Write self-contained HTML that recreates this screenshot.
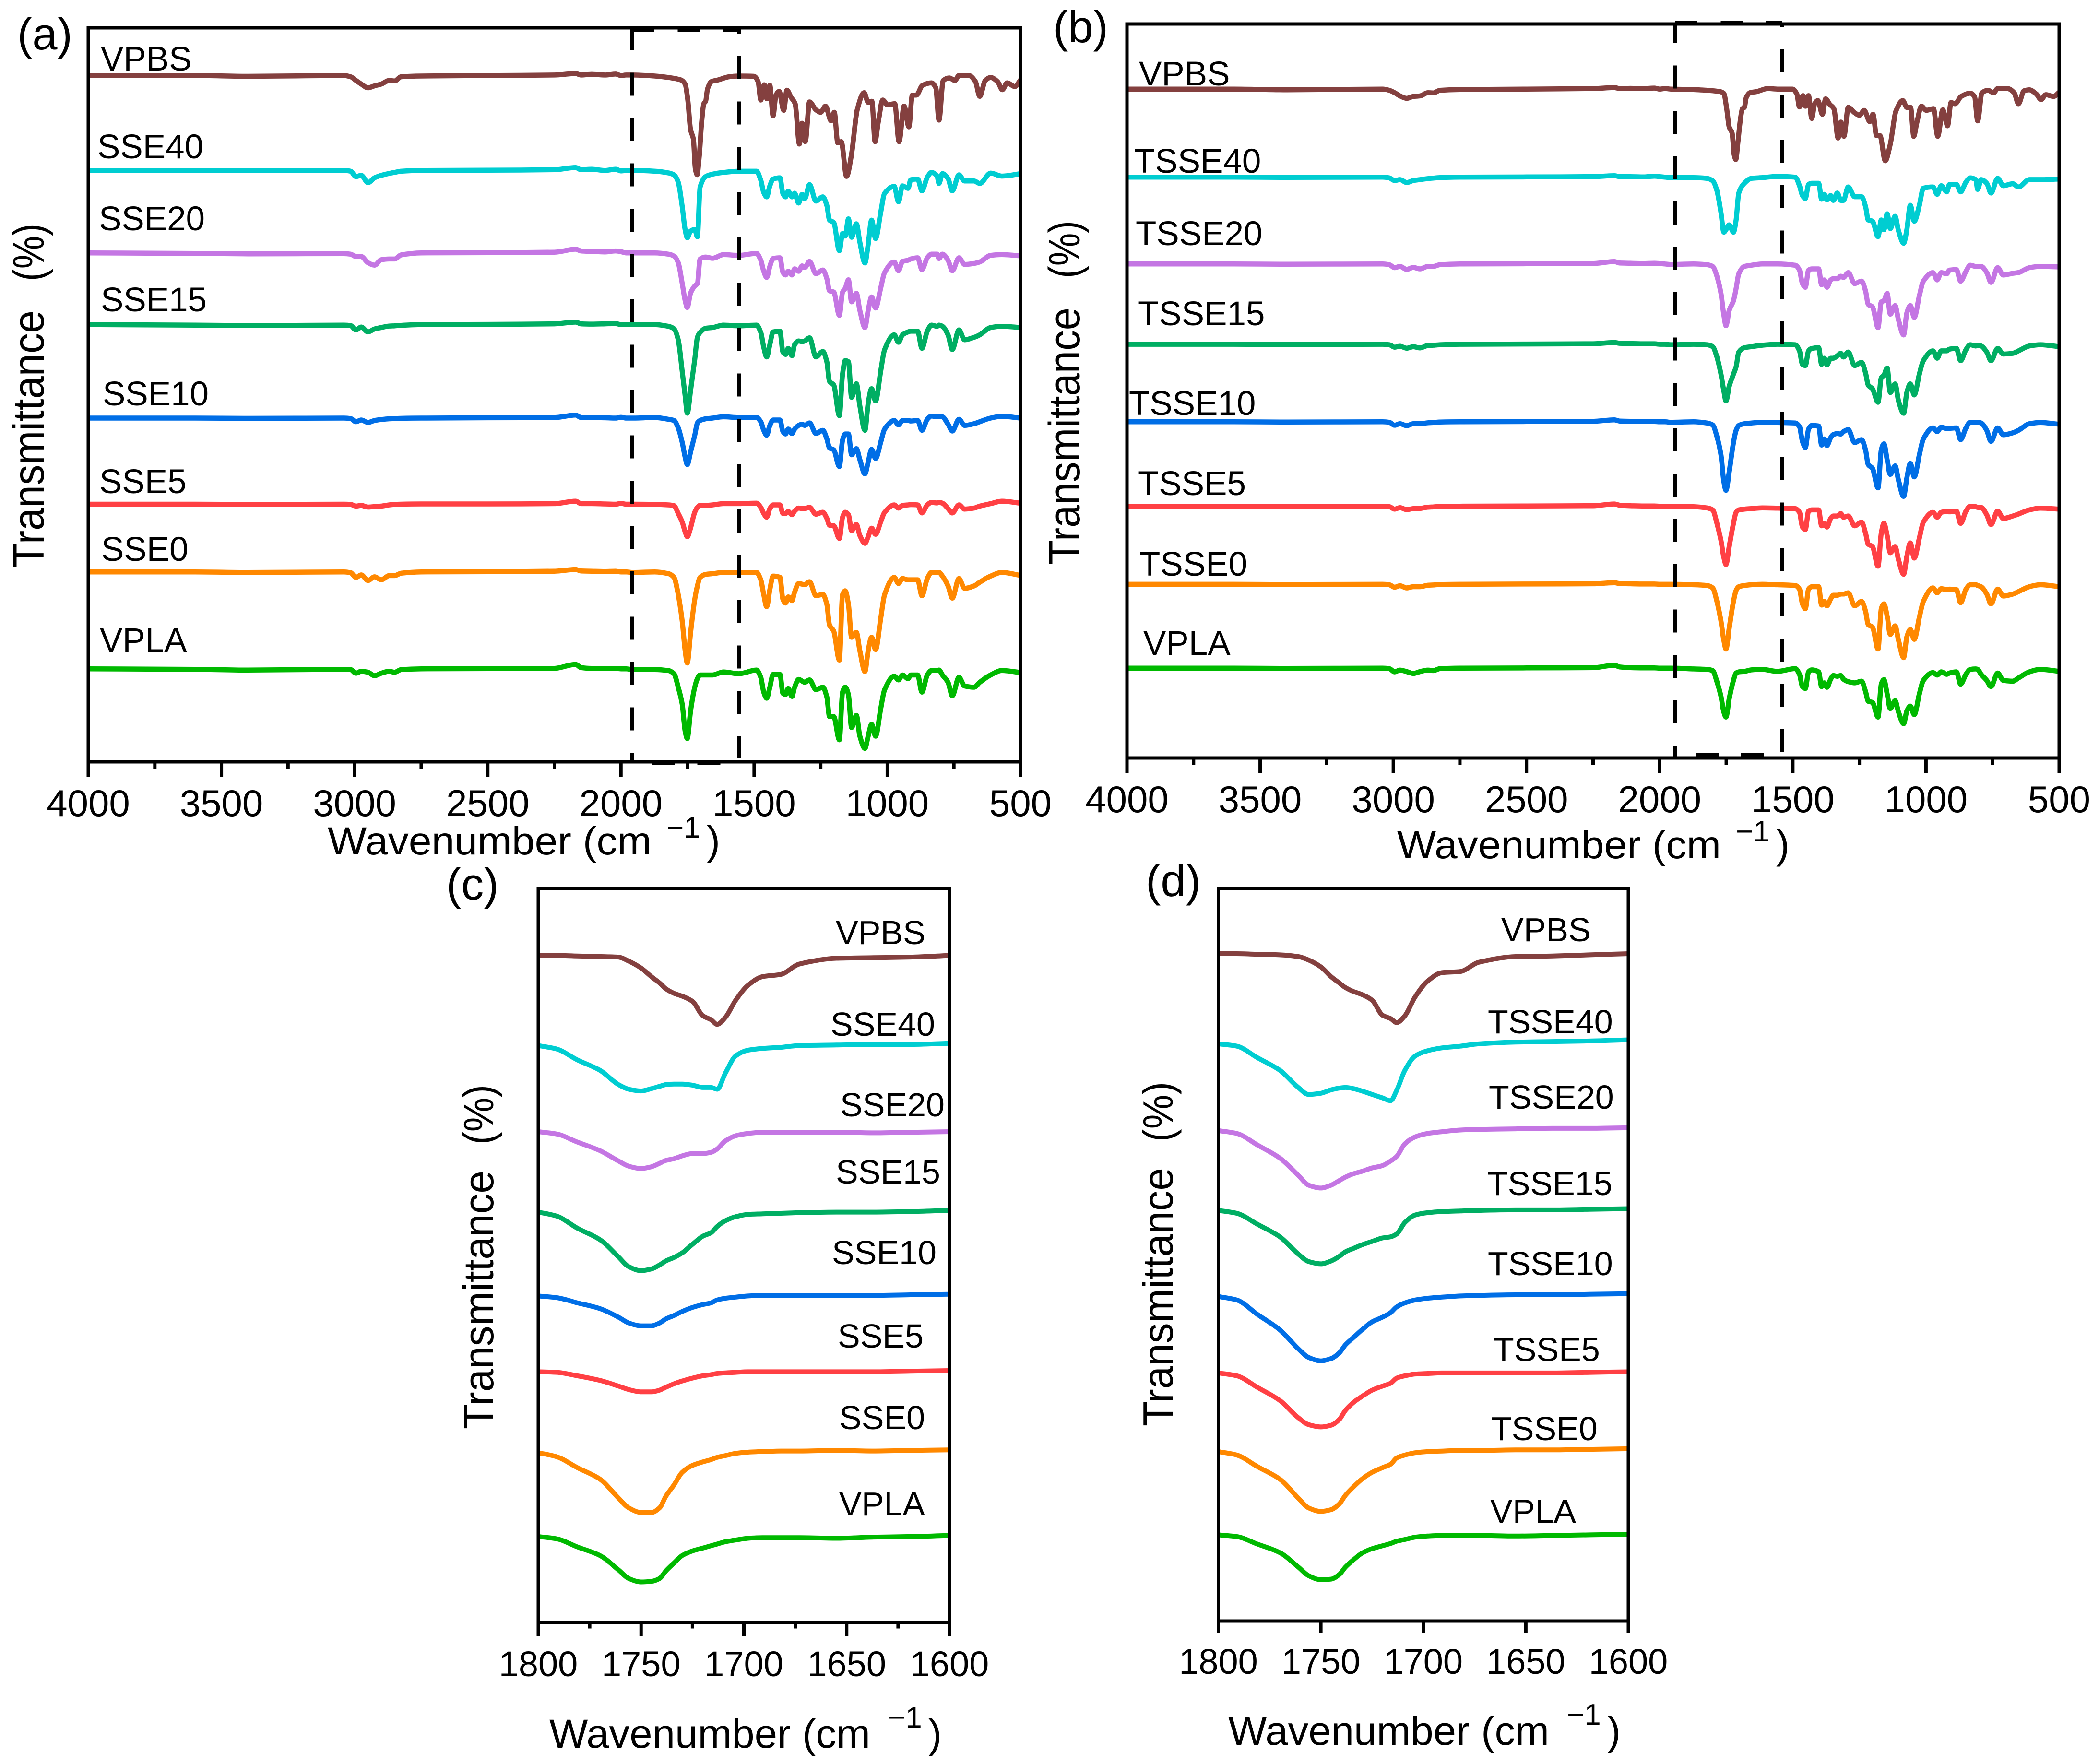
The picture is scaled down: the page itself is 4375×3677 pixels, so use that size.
<!DOCTYPE html>
<html lang="en">
<head>
<meta charset="utf-8">
<title>FTIR spectra panels</title>
<style>
html,body{margin:0;padding:0;background:#fff;}
svg{display:block;}
text{font-family:"Liberation Sans",sans-serif;fill:#000;}
</style>
</head>
<body>
<svg id="figure" xmlns="http://www.w3.org/2000/svg" width="4375" height="3677" viewBox="0 0 4375 3677">
<rect x="0" y="0" width="4375" height="3677" fill="#fff"/>
<g id="plots"></g>

<text x="36" y="103" font-size="94">(a)</text>
<text x="2195" y="88" font-size="94">(b)</text>
<text x="930" y="1875" font-size="94">(c)</text>
<text x="2388" y="1868" font-size="94">(d)</text>

<g>
<text x="683" y="1781" font-size="82" textLength="675" lengthAdjust="spacingAndGlyphs">Wavenumber (cm</text>
<text x="1389" y="1746" font-size="62">−1</text>
<text x="1473" y="1781" font-size="84">)</text>
</g>
<g>
<text x="2912" y="1789" font-size="82" textLength="675" lengthAdjust="spacingAndGlyphs">Wavenumber (cm</text>
<text x="3618" y="1754" font-size="62">−1</text>
<text x="3702" y="1789" font-size="84">)</text>
</g>
<g>
<text x="1145" y="3643" font-size="84" textLength="669" lengthAdjust="spacingAndGlyphs">Wavenumber (cm</text>
<text x="1851" y="3601" font-size="62">−1</text>
<text x="1935" y="3643" font-size="84">)</text>
</g>
<g>
<text x="2560" y="3637" font-size="84" textLength="669" lengthAdjust="spacingAndGlyphs">Wavenumber (cm</text>
<text x="3266" y="3595" font-size="62">−1</text>
<text x="3350" y="3637" font-size="84">)</text>
</g>

<g>
<text transform="translate(91,1183) rotate(-90)" font-size="92" textLength="536" lengthAdjust="spacingAndGlyphs">Transmittance</text>
<text transform="translate(91,586) rotate(-90)" font-size="92" textLength="120" lengthAdjust="spacingAndGlyphs">(%)</text>
</g>
<g>
<text transform="translate(2250,1177) rotate(-90)" font-size="92" textLength="536" lengthAdjust="spacingAndGlyphs">Transmittance</text>
<text transform="translate(2250,580) rotate(-90)" font-size="92" textLength="120" lengthAdjust="spacingAndGlyphs">(%)</text>
</g>
<g>
<text transform="translate(1028,2979) rotate(-90)" font-size="88" textLength="539" lengthAdjust="spacingAndGlyphs">Transmittance</text>
<text transform="translate(1028,2386) rotate(-90)" font-size="88" textLength="125" lengthAdjust="spacingAndGlyphs">(%)</text>
</g>
<g>
<text transform="translate(2444,2973) rotate(-90)" font-size="88" textLength="539" lengthAdjust="spacingAndGlyphs">Transmittance</text>
<text transform="translate(2444,2380) rotate(-90)" font-size="88" textLength="125" lengthAdjust="spacingAndGlyphs">(%)</text>
</g>
</svg>

<script>
// ---------- shared categories and ticks ----------
const seriesColors = ['#84403f', '#00cdd1', '#c476e3', '#00ae63', '#006ee6', '#ff4044', '#ff8800', '#00b900'];
const namesSSE = ['VPBS', 'SSE40', 'SSE20', 'SSE15', 'SSE10', 'SSE5', 'SSE0', 'VPLA'];
const namesTSSE = ['VPBS', 'TSSE40', 'TSSE20', 'TSSE15', 'TSSE10', 'TSSE5', 'TSSE0', 'VPLA'];
const wideMajorTicks = [4000, 3500, 3000, 2500, 2000, 1500, 1000, 500];
const wideMinorTicks = [3750, 3250, 2750, 2250, 1750, 1250, 750];
const zoomMajorTicks = [1800, 1750, 1700, 1650, 1600];
const zoomMinorTicks = [1775, 1725, 1675, 1625];
const noTicks = [];

// ---------- wavenumber grids ----------
const highRegionGrid = [4000,3600,3400,3040,3015,2995,2975,2950,2925,2900,2870,2850,2825,2750,2500,2250,2170,2150,2110,2060,2020,2000,1980];
const blendGrid = highRegionGrid.concat([
1958,1873,1822,1801,1785,1770,1759,1751,1739,1723,
1713,1703,1682,1656,1615,1558,1491,1475,1464,1453,
1441,1429,1403,1392,1382,1372,1358,1348,1333,1320,
1310,1292,1268,1242,1227,1217,1201,1180,1168,1158,
1146,1134,1116,1103,1084,1072,1059,1044,1025,1010,
974,958,943,922,912,886,870,850,834,813,
806,793,772,756,731,710,674,653,612,570,
500]);
const vpbsGrid = highRegionGrid.concat([
1958,1873,1822,1775,1759,1749,1739,1728,1721,1714,
1706,1697,1689,1682,1675,1661,1635,1594,1558,1501,
1485,1475,1462,1452,1441,1429,1418,1406,1389,1377,
1361,1346,1330,1320,1308,1292,1268,1250,1232,1211,
1199,1186,1173,1153,1134,1113,1087,1072,1058,1046,
1034,1017,999,972,956,937,919,906,891,868,
834,818,806,790,767,746,731,694,669,653,
632,612,586,568,550,521,500]);
const carbonylGrid = [1800,1791,1781,1770,1761,1756,1750,1745,1741,1738,1734,1730,1725,1720,1716,1713,1709,1704,1698,1691,1682,1673,1655,1637,1619,1600];

// ---------- baselines (offset transmittance, a.u.) ----------
const baselinesA = [2805, 2417, 2080, 1787, 1405, 1053, 776, 380];
const baselinesB = [2734, 2374, 2019, 1691, 1374, 1029, 710, 367];
const baselinesC = [1162, 1005, 855, 715, 569, 437, 296, 150];
const baselinesD = [1162, 1005, 854, 715, 565, 432, 295, 150];

// ---------- panel (a): drop below baseline, a.u. ----------
const aVPBS = [0,0,3,0,5,20,35,50,42,35,20,22,5,2,0,-2,-8,-2,-5,-2,-6,0,-2,
-2,2,8,18,35,100,220,260,380,405,
330,190,115,105,55,25,18,5,2,3,
25,100,38,95,40,165,80,65,142,60,
90,115,280,195,270,108,140,150,125,185,
150,275,270,412,320,140,70,110,105,270,
190,100,120,115,270,125,210,80,80,40,
30,50,182,20,10,20,0,0,25,85,
20,8,25,58,30,45,18];
const aSSE40 = [0,0,1,0,3,25,20,50,30,20,12,8,3,0,-1,-3,-12,-3,-5,0,-5,2,0,
0,3,10,18,48,148,243,275,248,241,
271,68,25,15,8,3,3,40,90,108,
63,35,30,95,108,85,108,93,133,98,
115,58,125,108,143,203,213,328,258,268,
198,273,218,293,378,303,203,278,173,93,
65,128,63,73,38,35,83,28,8,23,
53,13,33,83,18,43,43,53,11,23,
13];
const aSSE20 = [0,2,4,3,5,15,15,40,50,28,25,25,8,0,-1,-3,-15,-8,-6,-4,-8,-5,0,
0,0,5,13,40,125,195,223,165,135,
125,25,17,22,7,10,2,30,75,100,
55,23,20,80,90,75,90,65,75,53,
60,35,85,70,105,155,160,255,160,145,
110,200,165,235,305,235,180,225,145,80,
37,73,35,30,25,20,68,20,5,5,
23,5,30,73,20,47,43,37,10,7,
12];
const aSSE15 = [0,2,4,2,4,22,10,30,18,12,6,5,3,0,-1,-3,-10,-3,-2,-3,-4,0,0,
0,0,7,17,62,192,292,362,272,142,
52,32,15,12,2,5,2,32,92,132,
82,30,27,112,122,97,127,82,67,70,
67,54,132,110,152,232,247,372,202,147,
152,297,242,332,432,322,262,312,192,102,
42,72,42,30,27,27,97,27,2,7,
2,7,42,102,22,62,52,42,12,7,
12];
const aSSE10 = [0,0,1,0,2,15,8,18,10,6,3,2,1,0,-1,-2,-12,-2,-2,-1,0,-3,0,
0,-2,5,10,40,100,160,190,140,70,
20,10,3,0,-5,-2,-2,15,50,70,
30,8,8,55,65,45,63,45,30,25,
30,20,63,50,85,122,130,198,90,65,
65,150,125,170,228,180,128,165,100,45,
10,28,10,10,12,10,50,5,-8,-5,
-7,-5,25,53,5,30,23,15,0,-7,
0];
const aSSE5 = [0,0,1,0,1,8,5,12,10,8,3,1,0,-1,-1,-2,-12,-2,-2,-1,0,-3,0,
0,1,3,6,38,73,113,133,98,33,
13,5,5,3,-2,-2,-4,13,38,53,
18,3,3,38,38,30,43,28,16,18,
18,13,41,33,58,86,88,140,53,33,
43,108,83,128,160,133,98,123,73,33,
3,16,5,3,2,3,36,3,-7,-5,
-7,-4,18,36,3,20,16,8,-2,-12,
-4];
const aSSE0 = [0,0,2,0,3,22,12,35,20,32,15,15,5,0,-1,-3,-10,-4,-3,-2,-3,0,0,
2,0,7,22,92,202,322,372,252,112,
57,22,10,7,2,2,2,32,92,142,
72,17,22,112,127,102,117,82,47,50,
52,40,97,92,132,217,242,360,92,77,
132,267,247,322,407,322,267,317,192,92,
22,47,27,32,32,32,97,27,2,2,
2,17,57,107,27,67,57,42,17,2,
14];
const aVPLA = [0,2,5,2,3,18,10,14,28,18,10,14,3,0,-1,-2,-18,-5,-2,-2,-2,0,0,
3,3,7,20,75,145,255,285,175,75,
40,25,25,25,13,20,5,35,95,120,
75,23,23,100,105,80,113,75,43,50,
55,45,85,75,115,195,195,290,95,75,
105,240,190,275,325,275,227,275,165,85,
30,45,25,40,25,25,95,25,7,7,
5,25,55,110,35,70,75,55,25,7,
15];

// ---------- panel (b): drop below baseline, a.u. ----------
const bVPBS = [0,0,3,0,5,15,28,38,30,28,15,16,5,2,0,-2,-6,-2,-3,-2,-4,0,-2,
0,2,5,10,18,75,155,180,265,288,
215,125,80,75,35,15,10,-2,0,0,
20,73,27,70,27,120,60,47,103,40,
63,80,200,135,193,75,97,107,87,133,
103,190,190,293,225,90,47,75,75,193,
135,70,87,80,193,85,150,55,60,30,
17,30,130,15,5,15,-2,-2,15,60,
7,3,20,43,23,30,13];
const bTSSE40 = [0,0,1,0,3,14,10,22,14,10,6,4,2,0,-1,-2,-6,-2,-2,-1,-4,-2,0,
2,2,5,15,55,145,225,215,195,225,
175,65,25,5,2,-3,0,35,75,87,
30,25,25,90,70,93,75,95,65,95,
95,40,80,80,120,175,180,243,175,215,
150,210,160,220,270,215,115,180,115,45,
40,70,35,60,30,30,60,20,3,10,
50,10,25,65,5,35,27,40,10,10,
8];
const bTSSE20 = [0,0,1,0,3,15,10,22,14,20,10,10,3,0,-1,-2,-10,-4,-3,-2,-3,-2,0,
2,0,3,10,50,120,210,252,190,150,
100,40,10,5,0,0,5,25,80,95,
25,20,20,85,65,95,65,60,60,50,
55,35,80,70,110,165,175,260,155,150,
120,205,170,230,290,200,170,218,130,70,
35,65,35,40,25,23,70,30,5,10,
10,10,35,75,15,45,38,35,15,10,
12];
const bTSSE15 = [0,0,1,0,2,12,8,16,10,15,5,4,2,0,-1,-2,-7,-4,-3,-2,-2,0,0,
2,0,2,10,52,122,192,232,172,122,
92,32,14,10,4,0,2,27,82,87,
27,17,14,82,57,84,57,57,47,37,
52,32,87,74,117,167,182,237,137,127,
97,197,162,232,282,197,162,207,122,67,
27,57,27,27,20,17,67,22,2,7,
4,7,32,67,17,40,37,27,7,2,
10];
const bTSSE10 = [0,0,1,0,2,14,8,16,8,8,4,3,1,0,-1,-2,-8,-3,-2,-1,-1,0,0,
2,0,5,13,60,135,245,280,205,85,
35,15,8,5,2,3,5,20,80,105,
30,15,17,95,70,97,65,52,48,50,
40,32,85,73,115,175,190,270,115,90,
155,215,180,240,305,230,170,225,135,70,
25,40,22,28,27,25,73,25,2,2,
2,5,35,80,25,53,45,35,8,3,
10];
const bTSSE5 = [0,0,1,0,2,12,6,14,10,9,4,3,1,0,-1,-2,-9,-4,-2,-1,-1,0,0,
0,2,7,15,70,140,210,238,165,70,
25,15,12,10,7,8,10,25,85,95,
20,15,15,80,70,85,50,40,40,30,
45,40,80,65,110,155,165,245,110,70,
120,190,165,220,278,205,150,212,130,65,
25,45,25,22,23,20,70,20,0,2,
5,5,35,75,20,50,40,32,15,8,
12];
const bTSSE0 = [0,0,1,0,2,12,6,15,10,10,4,3,1,0,-1,-2,-6,-3,-2,-1,-1,0,0,
0,2,5,15,70,150,230,265,180,70,
25,10,5,2,0,2,5,20,80,100,
20,10,10,85,70,88,60,45,45,40,
40,35,88,70,110,165,175,265,100,80,
130,205,170,230,300,215,185,225,135,70,
15,35,18,22,20,22,75,20,2,2,
5,10,40,80,20,48,40,30,10,2,
10];
const bVPLA = [0,0,1,0,2,15,8,14,22,14,8,10,2,0,-1,-2,-12,-5,-2,-1,-1,0,0,
0,3,5,10,55,115,180,200,125,50,
20,15,13,7,5,13,2,25,75,83,
15,7,15,75,60,78,45,30,33,30,
45,55,60,53,95,135,140,200,65,47,
105,165,133,180,227,175,155,190,105,50,
18,28,15,25,20,15,65,25,5,3,
5,25,50,75,20,50,53,40,15,5,
13];

// ---------- panel (c): drop below baseline, a.u. ----------
const cVPBS = [0,0,1,2,3,10,22,37,48,58,66,71,80,105,112,120,108,78,52,37,33,15,5,4,3,0];
const cSSE40 = [0,6,25,43,68,76,79,75,71,68,67,67,69,73,73,76,48,18,8,5,3,0,-1,-2,-2,-4];
const cSSE20 = [0,4,18,33,51,60,64,61,55,50,47,42,38,38,36,30,16,7,3,1,1,1,1,2,1,0];
const cSSE15 = [0,7,28,48,78,95,102,99,92,85,79,71,56,42,36,25,15,8,4,3,2,1,0,0,-1,-3];
const cSSE10 = [0,3,12,22,37,47,52,52,47,40,34,27,20,15,12,7,4,2,0,-1,-1,-1,-1,-1,-2,-3];
const cSSE5 = [0,1,7,15,25,31,35,35,32,27,21,16,11,7,5,3,2,1,0,0,0,0,0,0,-1,-2];
const cSSE0 = [0,7,26,46,79,96,104,104,96,76,56,34,22,16,12,8,5,1,-1,-2,-3,-3,-4,-3,-4,-5];
const cVPLA = [0,4,18,33,58,73,79,78,73,60,46,33,25,20,16,13,9,6,3,2,2,2,3,1,0,-2];

// ---------- panel (d): drop below baseline, a.u. ----------
const dVPBS = [0,0,1,2,5,11,23,40,51,59,66,71,81,107,113,120,108,75,48,33,31,15,5,4,2,0];
const dTSSE40 = [0,4,24,46,76,88,86,80,77,76,78,82,88,94,99,81,46,21,12,7,4,0,-3,-4,-5,-7];
const dTSSE20 = [0,5,25,48,78,95,100,95,87,81,75,71,65,61,53,45,23,11,5,2,-1,-2,-3,-4,-4,-5];
const dTSSE15 = [0,5,24,46,76,89,93,88,80,72,66,60,54,48,46,41,21,8,4,2,1,0,-1,-1,-2,-3];
const dTSSE10 = [0,6,31,58,91,106,112,108,98,84,71,58,44,36,28,18,11,6,3,1,-1,-2,-3,-3,-4,-5];
const dTSSE5 = [0,5,25,48,78,90,94,91,81,65,51,41,30,23,18,9,5,2,1,0,0,0,0,0,-1,-2];
const dTSSE0 = [0,6,26,48,81,98,104,101,91,76,61,48,36,28,22,11,6,2,0,-1,-2,-2,-3,-3,-4,-5];
const dVPLA = [0,3,16,31,56,71,78,77,69,56,43,32,24,19,15,11,8,4,2,1,1,1,2,1,0,-1];

// ---------- layout ----------
const panels = [
  { id:'a', left:184, right:2127, top:58, bottom:1588, xStart:4000, xEnd:500, yMax:3000, major:wideMajorTicks, minor:wideMinorTicks, majorLen:31, minorLen:14, tickBase:1701, tickFont:78, labelFont:71, line:10.5,
    names:namesSSE, baselines:baselinesA, grids:[vpbsGrid,blendGrid,blendGrid,blendGrid,blendGrid,blendGrid,blendGrid,blendGrid],
    series:[aVPBS,aSSE40,aSSE20,aSSE15,aSSE10,aSSE5,aSSE0,aVPLA],
    labelX:[210,203,206,210,214,207,211,208], labelY:[147,330,480,649,845,1028,1169,1359] },
  { id:'b', left:2349, right:4292, top:50, bottom:1580, xStart:4000, xEnd:500, yMax:3000, major:wideMajorTicks, minor:wideMinorTicks, majorLen:31, minorLen:14, tickBase:1693, tickFont:78, labelFont:71, line:10.5,
    names:namesTSSE, baselines:baselinesB, grids:[vpbsGrid,blendGrid,blendGrid,blendGrid,blendGrid,blendGrid,blendGrid,blendGrid],
    series:[bVPBS,bTSSE40,bTSSE20,bTSSE15,bTSSE10,bTSSE5,bTSSE0,bVPLA],
    labelX:[2374,2364,2367,2372,2353,2372,2375,2383], labelY:[178,360,511,678,865,1032,1200,1365] },
  { id:'c', left:1122, right:1979, top:1851.5, bottom:3382.5, xStart:1800, xEnd:1600, yMax:1279, major:zoomMajorTicks, minor:zoomMinorTicks, majorLen:28, minorLen:12, tickBase:3494, tickFont:74, labelFont:70, line:10,
    names:namesSSE, baselines:baselinesC, grids:[carbonylGrid,carbonylGrid,carbonylGrid,carbonylGrid,carbonylGrid,carbonylGrid,carbonylGrid,carbonylGrid],
    series:[cVPBS,cSSE40,cSSE20,cSSE15,cSSE10,cSSE5,cSSE0,cVPLA],
    labelX:[1742,1731,1751,1742,1734,1746,1749,1749], labelY:[1968,2159,2327,2467,2635,2809,2979,3159] },
  { id:'d', left:2539.5, right:3394, top:1851.5, bottom:3379, xStart:1800, xEnd:1600, yMax:1276, major:zoomMajorTicks, minor:noTicks, majorLen:25, minorLen:12, tickBase:3489, tickFont:74, labelFont:70, line:10,
    names:namesTSSE, baselines:baselinesD, grids:[carbonylGrid,carbonylGrid,carbonylGrid,carbonylGrid,carbonylGrid,carbonylGrid,carbonylGrid,carbonylGrid],
    series:[dVPBS,dTSSE40,dTSSE20,dTSSE15,dTSSE10,dTSSE5,dTSSE0,dVPLA],
    labelX:[3129,3101,3103,3100,3101,3113,3108,3106], labelY:[1962,2154,2311,2491,2658,2837,3002,3174] }
];

const SVG_NS = 'http://www.w3.org/2000/svg';
function make(parent, tag, attrs) {
  const el = document.createElementNS(SVG_NS, tag);
  for (const k in attrs) el.setAttribute(k, attrs[k]);
  parent.appendChild(el);
  return el;
}

// Monotone cubic path: peaks get round tips with no overshoot
function smoothPath(xs, ys) {
  const n = xs.length;
  const sec = [];
  for (let i = 0; i < n - 1; i++) sec.push((ys[i + 1] - ys[i]) / (xs[i + 1] - xs[i]));
  const m = [sec[0]];
  for (let i = 1; i < n - 1; i++) {
    m.push(sec[i - 1] * sec[i] <= 0 ? 0 : 2 * sec[i - 1] * sec[i] / (sec[i - 1] + sec[i]));
  }
  m.push(sec[n - 2]);
  let d = 'M' + xs[0].toFixed(1) + ' ' + ys[0].toFixed(1);
  for (let i = 0; i < n - 1; i++) {
    const h = (xs[i + 1] - xs[i]) / 3;
    d += 'C' + (xs[i] + h).toFixed(1) + ' ' + (ys[i] + m[i] * h).toFixed(1) + ' ' +
      (xs[i + 1] - h).toFixed(1) + ' ' + (ys[i + 1] - m[i + 1] * h).toFixed(1) + ' ' +
      xs[i + 1].toFixed(1) + ' ' + ys[i + 1].toFixed(1);
  }
  return d;
}

const root = document.getElementById('plots');

panels.forEach(function (p) {
  const xScale = function (w) { return p.left + (p.xStart - w) / (p.xStart - p.xEnd) * (p.right - p.left); };
  const yScale = function (v) { return p.bottom - v / p.yMax * (p.bottom - p.top); };

  const g = make(root, 'g', {});
  
  

  p.series.forEach(function (drops, i) {
    const grid = p.grids[i];
    const xs = drops.map(function (_, k) { return xScale(grid[k]); });
    const ys = drops.map(function (v) { return yScale(p.baselines[i] - v); });
    const path = make(g, 'path', { d: smoothPath(xs, ys), fill: 'none', stroke: seriesColors[i], 'stroke-width': p.line, 'stroke-linejoin': 'round', 'stroke-linecap': 'butt' });
    
    

    const label = make(g, 'text', { x: p.labelX[i], y: p.labelY[i], 'font-size': p.labelFont });
    label.textContent = p.names[i];
    
    
  });

  const frame = make(g, 'rect', { x: p.left, y: p.top, width: p.right - p.left, height: p.bottom - p.top, fill: 'none', stroke: '#000', 'stroke-width': 7 });
  
  

  p.major.forEach(function (t) {
    const tick = make(g, 'line', { x1: xScale(t), x2: xScale(t), y1: p.bottom, y2: p.bottom + p.majorLen, stroke: '#000', 'stroke-width': 7 });
    
    
    const tl = make(g, 'text', { x: xScale(t), y: p.tickBase, 'font-size': p.tickFont, 'text-anchor': 'middle' });
    tl.textContent = t;
    
    
  });
  p.minor.forEach(function (t) {
    const tick = make(g, 'line', { x1: xScale(t), x2: xScale(t), y1: p.bottom, y2: p.bottom + p.minorLen, stroke: '#000', 'stroke-width': 7 });
    
    
  });
});

// ---------- dashed highlight boxes ----------
const dashSegments = [
  { name:'dashed-left-a', x1:1318, y1:57, x2:1318, y2:1590, dash:'48 46.5', offset:0 },
  { name:'dashed-right-a', x1:1540, y1:58, x2:1540, y2:1580, dash:'48 46.5', offset:35.5 },
  { name:'dashed-top-a', x1:1318, y1:62, x2:1540, y2:62, dash:'46 48.5', offset:0 },
  { name:'dashed-bottom-a', x1:1359, y1:1591, x2:1503, y2:1591, dash:'48 46.5', offset:0 },
  { name:'dashed-left-b', x1:3492, y1:50, x2:3492, y2:1582, dash:'48 46.5', offset:8 },
  { name:'dashed-right-b', x1:3715, y1:50, x2:3715, y2:1570, dash:'48 46.5', offset:42 },
  { name:'dashed-top-b', x1:3492, y1:47, x2:3715, y2:47, dash:'46 48.5', offset:0 },
  { name:'dashed-bottom-b', x1:3534, y1:1574, x2:3678, y2:1574, dash:'48 46.5', offset:0 }
];
dashSegments.forEach(function (s) {
  const seg = make(root, 'line', { x1: s.x1, y1: s.y1, x2: s.x2, y2: s.y2, stroke: '#000', 'stroke-width': 8, 'stroke-dasharray': s.dash, 'stroke-dashoffset': s.offset });
  
  
});
</script>
</body>
</html>
